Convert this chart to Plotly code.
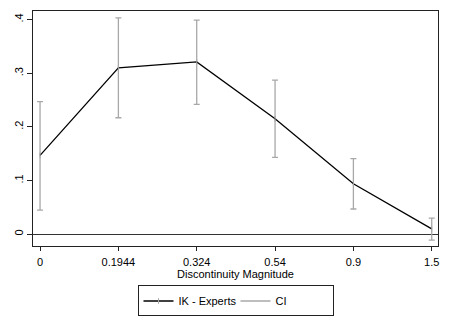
import plotly.graph_objects as go

# data
magnitudes = ["0", "0.1944", "0.324", "0.54", "0.9", "1.5"]
estimate = [0.147, 0.310, 0.321, 0.215, 0.094, 0.010]
ci_upper = [0.247, 0.403, 0.399, 0.287, 0.141, 0.030]
ci_lower = [0.045, 0.217, 0.242, 0.143, 0.047, -0.011]
y_ticks = [0, 0.1, 0.2, 0.3, 0.4]
y_tick_labels = ["0", ".1", ".2", ".3", ".4"]

grey = "#a8a8a8"

fig = go.Figure()

# confidence interval caps (drawn under the line)
fig.add_trace(go.Scatter(
    x=magnitudes,
    y=estimate,
    mode="markers",
    marker=dict(size=1, opacity=0),
    error_y=dict(
        type="data",
        symmetric=False,
        array=[u - e for u, e in zip(ci_upper, estimate)],
        arrayminus=[e - l for e, l in zip(estimate, ci_lower)],
        color=grey,
        thickness=1.3,
        width=3,
    ),
    showlegend=False,
    hoverinfo="skip",
))

fig.add_trace(go.Scatter(
    x=magnitudes,
    y=estimate,
    mode="lines+markers",
    line=dict(color="black", width=1.3),
    marker=dict(symbol="line-ns", size=4, color=grey, line=dict(color=grey, width=1)),
    name="IK - Experts",
))

# legend entry for the CI
fig.add_trace(go.Scatter(
    x=[None], y=[None],
    mode="lines",
    line=dict(color=grey, width=1.3),
    name="CI",
))

fig.update_layout(
    width=450,
    height=327,
    margin=dict(l=33, r=12, t=11, b=74),
    paper_bgcolor="white",
    plot_bgcolor="white",
    font=dict(family="Liberation Sans, Arial, sans-serif", size=11, color="black"),
    legend=dict(
        orientation="h",
        x=0.5, xanchor="center",
        y=-0.168, yanchor="top",
        bordercolor="#222222", borderwidth=1,
        font=dict(size=11),
        tracegroupgap=0,
        entrywidth=52,
    ),
)

fig.update_xaxes(
    type="category",
    range=[-0.09, 5.08],
    automargin=False,
    showgrid=False,
    showline=True, mirror=True, linecolor="#222222", linewidth=1,
    ticks="outside", ticklen=4, tickcolor="#222222",
    ticklabeloverflow="allow",
    ticklabelstandoff=2,
    title=dict(text="Discontinuity Magnitude", standoff=3, font=dict(size=11)),
)

fig.update_yaxes(
    range=[-0.022, 0.416],
    automargin=False,
    tickvals=y_ticks,
    ticktext=y_tick_labels,
    tickangle=-90,
    showgrid=False,
    zeroline=True, zerolinecolor="#333333", zerolinewidth=1,
    showline=True, mirror=True, linecolor="#222222", linewidth=1,
    ticks="outside", ticklen=5, tickcolor="#222222",
    ticklabelstandoff=0,
)

# the page body has a default 8px margin; remove it so the figure fills the window
fig.write_html(
    "out.html",
    config={"displayModeBar": False},
    post_script="document.body.style.margin='0px';",
)
